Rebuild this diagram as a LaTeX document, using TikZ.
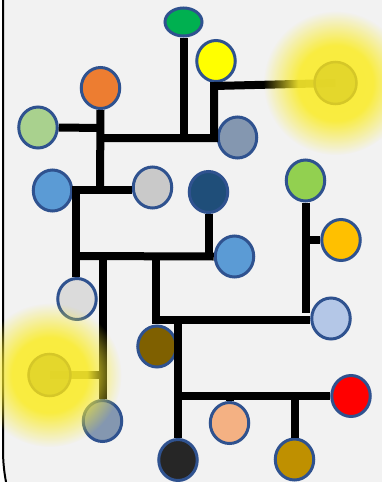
\documentclass[tikz,border=0pt]{standalone}
\usetikzlibrary{shapes.geometric,fadings}
\definecolor{bg}{RGB}{242,242,242}
\definecolor{bord}{RGB}{47,82,143}
\definecolor{cgreen}{HTML}{00B050}
\definecolor{cyellow}{HTML}{FFFF00}
\definecolor{corange}{HTML}{ED7D31}
\definecolor{clgreen}{HTML}{A9D18E}
\definecolor{cgrayblue}{HTML}{8497B0}
\definecolor{cblue}{HTML}{5B9BD5}
\definecolor{clgray}{HTML}{C9C9C9}
\definecolor{cdblue}{HTML}{1F4E79}
\definecolor{cgreentwo}{HTML}{92D050}
\definecolor{cgold}{HTML}{FFC000}
\definecolor{clblue}{HTML}{B4C7E7}
\definecolor{clgraytwo}{HTML}{DBDBDB}
\definecolor{cbrown}{HTML}{7F6000}
\definecolor{cred}{HTML}{FF0000}
\definecolor{cpeach}{HTML}{F4B183}
\definecolor{cdark}{HTML}{262626}
\definecolor{cgoldtwo}{HTML}{BF9000}
\definecolor{glowY}{RGB}{250,236,45}
\definecolor{glowfill}{RGB}{226,213,42}
\definecolor{glowedge}{RGB}{213,199,40}
\pgfdeclareradialshading{glowsh}{\pgfpointorigin}{rgb(0bp)=(0.92,0.92,0.92); rgb(13bp)=(0.9,0.9,0.9); rgb(19bp)=(0.45,0.45,0.45); rgb(25bp)=(0,0,0); rgb(50bp)=(0,0,0)}
\pgfdeclarefading{glowfade}{\pgfuseshading{glowsh}}
\begin{document}
\begin{tikzpicture}[x=1pt,y=-1pt,
  dot/.style={ellipse, draw=bord, line width=3pt, minimum width=38.5pt, minimum height=41pt, inner sep=0pt},
  wire/.style={line width=8pt, draw=black, line join=miter},
  glowdot/.style={circle, draw=glowedge, fill=glowfill, line width=2.5pt, minimum size=42pt, inner sep=0pt, fill opacity=0.88, draw opacity=1},
  glowhalo/.style={fill=glowY, path fading=glowfade}]
\useasboundingbox (0,0) rectangle (382,482);
\clip (0,0) rectangle (382,482);
\fill[white] (0,0) rectangle (382,482);
\draw[line width=2pt, fill=bg, rounded corners=170pt] (3,-200) rectangle (600,620);

% circles
\node[dot, fill=cgreen, minimum width=37pt, minimum height=28pt] (n1) at (183.5,22) {};
\node[dot, fill=cyellow] (n2) at (216,61) {};
\coordinate (g3) at (335.5,83);
\node[dot, fill=corange] (n4) at (100.5,88) {};
\node[dot, fill=clgreen] (n5) at (38,127.5) {};
\node[dot, fill=cgrayblue] (n6) at (237.5,137.5) {};
\node[dot, fill=cblue] (n7) at (52.5,190.5) {};
\node[dot, fill=clgray] (n8) at (152.5,187.5) {};
\node[dot, fill=cdblue] (n9) at (208.5,192) {};
\node[dot, fill=cgreentwo] (n10) at (305.5,180.5) {};
\node[dot, fill=cgold] (n11) at (341,240) {};
\node[dot, fill=cblue] (n12) at (234.5,256.5) {};
\node[dot, fill=clblue] (n13) at (331,318.5) {};
\node[dot, fill=clgraytwo] (n14) at (77,299) {};
\node[dot, fill=cbrown] (n15) at (157,346.5) {};
\coordinate (g16) at (49.5,375);
\node[dot, fill=cgrayblue] (n17) at (102.5,421) {};
\node[dot, fill=cred] (n18) at (351,396) {};
\node[dot, fill=cpeach] (n19) at (229.5,423) {};
\node[dot, fill=cdark] (n20) at (178,460) {};
\node[dot, fill=cgoldtwo] (n21) at (294.5,459.5) {};

% junction coordinates
\coordinate (a1) at (100,190);
\coordinate (a2) at (76,190);
\coordinate (b0) at (76,256);
\coordinate (c0) at (156,256);
\coordinate (c1) at (156,320);
\coordinate (d0) at (178,320);
\coordinate (d1) at (178,396);
\coordinate (e0) at (305.5,240);

% connectors
\draw[wire] (n1.south) -- ++(0,100);
\draw[wire] (100,138) -- (214,138) -- (214,86) -- (g3);
\draw[wire] (n4.south) -- (a1);
\draw[wire] (n5.east) -- (100,128);
\draw[wire] (n8.west |- a1) -- (a2) -- (a2 |- n14.north);
\draw[wire] (b0) -- (n12.west);
\draw[wire] (n9.south) -- (n9.south |- b0);
\draw[wire] (n17.north |- b0) -- (n17.north);
\draw[wire] (g16) -- (n17.north |- g16);
\draw[wire] (c0) -- (c1) -- (n13.west |- c1);
\draw[wire] (d0) -- (n20.north);
\draw[wire] (d1) -- (n18.west);
\draw[wire] (n19.north) -- (n19.north |- d1);
\draw[wire] (n21.north |- d1) -- (n21.north);
\draw[wire] (n10.south) -- ++(0,110);
\draw[wire] (e0) -- (n11.west);

% glows
\fill[glowhalo] (g3) circle (72);
\fill[glowhalo] (g16) circle (72);
\node[glowdot] (n3) at (g3) {};
\node[glowdot] (n16) at (g16) {};
\end{tikzpicture}
\end{document}
